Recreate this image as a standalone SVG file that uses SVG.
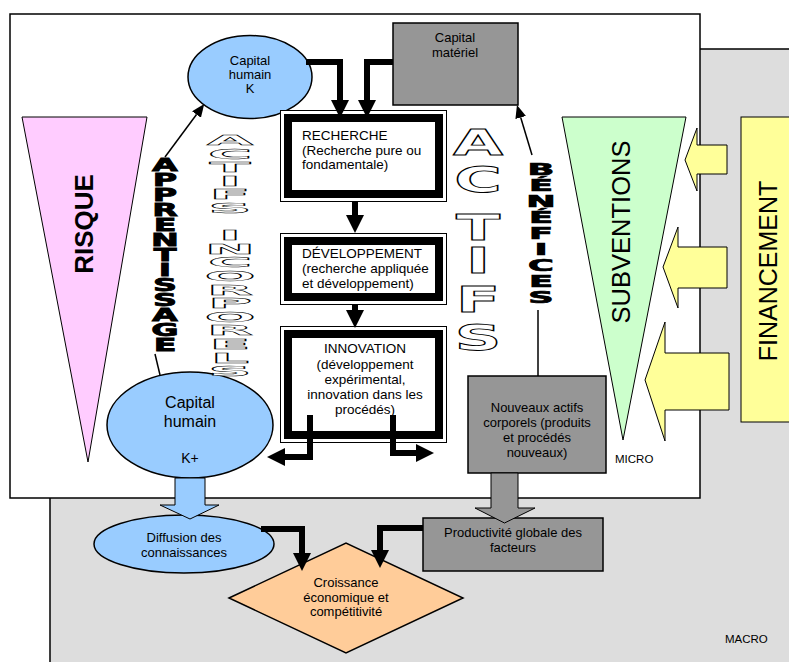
<svg xmlns="http://www.w3.org/2000/svg" width="789" height="662" viewBox="0 0 789 662">
<defs>
<style>
text{font-family:"Liberation Sans",Arial,sans-serif;fill:#000}
.t13{font-size:13px}
.t135{font-size:13.5px}
.mid{text-anchor:middle}
.thick{fill:none;stroke:#000;stroke-width:6;stroke-linejoin:miter}
.thin{fill:none;stroke:#000;stroke-width:1.5}
.outer{fill:#fff;stroke:#000;stroke-width:1}
.band{fill:none;stroke:#000;stroke-width:8}
.stk{font-family:"DejaVu Sans",sans-serif;font-weight:bold;text-anchor:middle;stroke:#000;stroke-width:1.2;vector-effect:non-scaling-stroke}
.out{font-family:"DejaVu Sans",sans-serif;font-weight:bold;text-anchor:middle;fill:#fff;stroke:#000;stroke-width:1.3;vector-effect:non-scaling-stroke}
</style>
<marker id="ah" markerUnits="userSpaceOnUse" markerWidth="18" markerHeight="18" viewBox="0 0 17 17" refX="0" refY="8.5" orient="auto">
<path d="M0,0 L17,8.5 L0,17 Z" fill="#000"/>
</marker>
<marker id="ahs" markerUnits="userSpaceOnUse" markerWidth="13" markerHeight="11" viewBox="0 0 13 11" refX="0" refY="5.5" orient="auto">
<path d="M0,0 L13,5.5 L0,11 Z" fill="#000"/>
</marker>
</defs>

<g id="macro-frame">
<rect x="50" y="49" width="750" height="625" fill="#dddddd" stroke="#000" stroke-width="1.5"/>
<text x="725" y="643" style="font-size:11.5px">MACRO</text>
</g>
<g id="micro-frame">
<rect x="10" y="14" width="690" height="484" fill="#fff" stroke="#000" stroke-width="1.5"/>
<text x="615" y="463" style="font-size:11.5px">MICRO</text>
</g>

<g id="risque">
<polygon points="22,117 147,117 88,462" fill="#ffccff" stroke="#000" stroke-width="1"/>
<text transform="translate(93,224) rotate(-90)" class="mid" style="font-size:26px;font-weight:bold">RISQUE</text>
</g>

<g id="subventions">
<polygon points="562,117 686,117 623,440" fill="#ccffcc" stroke="#000" stroke-width="1"/>
<text transform="translate(630,232) rotate(-90)" class="mid" style="font-size:25.5px">SUBVENTIONS</text>
</g>

<g id="financement">
<rect x="741" y="117" width="70" height="305" fill="#ffff99" stroke="#000" stroke-width="1"/>
<text transform="translate(777,271) rotate(-90)" class="mid" style="font-size:25px">FINANCEMENT</text>
</g>

<g id="financement-arrows" fill="#ffff99" stroke="#000" stroke-width="1">
<polygon points="727,145 697,145 697,128 685,160 697,191 697,174 727,174"/>
<polygon points="727,247 678,247 678,227 663,267 678,308 678,288 727,288"/>
<polygon points="729,353 665,353 665,322 645,380 665,441 665,410 729,410"/>
</g>

<g id="capital-humain-k">
<ellipse cx="250" cy="77" rx="62" ry="41.5" fill="#99ccff" stroke="#000" stroke-width="1.5"/>
<text x="250" y="65" class="t13 mid">Capital</text>
<text x="250" y="79" class="t13 mid">humain</text>
<text x="250" y="93" class="t13 mid">K</text>
</g>

<g id="capital-materiel">
<rect x="393" y="23" width="125" height="82" fill="#969696" stroke="#000" stroke-width="1.5"/>
<text x="455" y="42" class="t13 mid">Capital</text>
<text x="455" y="57" class="t13 mid">matériel</text>
</g>

<g id="recherche">
<rect x="280.5" y="110.5" width="166" height="91" class="outer"/>
<rect x="288" y="118" width="151" height="76" class="band"/>
<text x="302" y="140" class="t135">RECHERCHE</text>
<text x="302" y="155" class="t135">(Recherche pure ou</text>
<text x="302" y="169" class="t135">fondamentale)</text>
</g>

<g id="developpement">
<rect x="280.5" y="233.5" width="166" height="71" class="outer"/>
<rect x="288" y="241" width="151" height="56" class="band"/>
<text x="302" y="258" class="t135">DÉVELOPPEMENT</text>
<text x="302" y="273" class="t135">(recherche appliquée</text>
<text x="302" y="288" class="t135">et développement)</text>
</g>

<g id="innovation">
<rect x="280.5" y="326.5" width="166" height="116" class="outer"/>
<rect x="288" y="334" width="151" height="101" class="band"/>
<text x="365" y="353" class="t135 mid">INNOVATION</text>
<text x="365" y="369" class="t135 mid">(développement</text>
<text x="365" y="384" class="t135 mid">expérimental,</text>
<text x="365" y="399" class="t135 mid">innovation dans les</text>
<text x="365" y="414" class="t135 mid">procédés)</text>
</g>

<g id="capital-humain-kplus">
<ellipse cx="190" cy="425" rx="83" ry="53" fill="#99ccff" stroke="#000" stroke-width="1.5"/>
<text x="190" y="408" class="mid" style="font-size:16px">Capital</text>
<text x="190" y="427" class="mid" style="font-size:16px">humain</text>
<text x="190" y="463" class="mid" style="font-size:14px">K+</text>
</g>

<g id="nouveaux-actifs">
<rect x="468" y="376" width="138" height="97" fill="#969696" stroke="#000" stroke-width="1.5"/>
<text x="537" y="412" class="t13 mid">Nouveaux actifs</text>
<text x="537" y="427" class="t13 mid">corporels (produits</text>
<text x="537" y="442" class="t13 mid">et procédés</text>
<text x="537" y="457" class="t13 mid">nouveaux)</text>
</g>

<g id="diffusion">
<ellipse cx="184" cy="544" rx="90" ry="29" fill="#99ccff" stroke="#000" stroke-width="1.5"/>
<text x="184" y="542" class="t13 mid">Diffusion des</text>
<text x="184" y="557" class="t13 mid">connaissances</text>
</g>

<g id="productivite">
<rect x="423" y="518" width="180" height="53" fill="#969696" stroke="#000" stroke-width="1.5"/>
<text x="513" y="537" class="t13 mid">Productivité globale des</text>
<text x="513" y="552" class="t13 mid">facteurs</text>
</g>

<g id="croissance">
<polygon points="229,598 346,543 463,598 346,653" fill="#ffcc99" stroke="#000" stroke-width="1.5"/>
<text x="346" y="587" class="t13 mid">Croissance</text>
<text x="346" y="602" class="t13 mid">économique et</text>
<text x="346" y="616" class="t13 mid">compétitivité</text>
</g>

<g id="apprentissage">
<text transform="translate(165,0) scale(1.8,1)" class="stk" style="font-size:18.5px" x="0 0 0 0 0 0 0 0 0 0 0 0 0" y="171 186 201 216 231 246 261 276 291 306 321 336 351">APPRENTISSAGE</text>
</g>

<g id="actifs-incorporels">
<text transform="translate(230,0) scale(4.3,1)" class="out" style="font-size:14px" x="0 0 0 0 0 0 0 0 0 0 0 0 0 0 0 0 0 0" y="145 158.6 172.2 185.8 199.4 213 226.6 240.2 253.8 267.4 281 294.6 308.2 321.8 335.4 349 362.6 376.2">ACTIFS INCORPORELS</text>
</g>

<g id="actifs">
<text transform="translate(478,0) scale(1.85,1)" class="out" style="font-size:35px" x="0 0 0 0 0 0" y="155 192 240 273 312 350">ACTIFS</text>
</g>

<g id="benefices">
<text transform="translate(541,0) scale(2.2,1)" class="stk" style="font-size:16px" x="0 0 0 0 0 0 0 0 0" y="175 191 207 223 239 255 271 287 303">BÉNÉFICES</text>
</g>

<g id="connectors">
<path d="M306,62 H340 V100" class="thick" marker-end="url(#ah)"/>
<path d="M393,62 H367 V100" class="thick" marker-end="url(#ah)"/>
<path d="M355,202 V215" class="thick" marker-end="url(#ah)"/>
<path d="M355,305 V310" class="thick" marker-end="url(#ah)"/>
<path d="M310,415 V457 H285" class="thick" marker-end="url(#ah)"/>
<path d="M393,415 V453 H416" class="thick" marker-end="url(#ah)"/>
<path d="M261,529 H302 V553" class="thick" marker-end="url(#ah)"/>
<path d="M423,528 H380 V550" class="thick" marker-end="url(#ah)"/>
<path d="M165,157 L196.5,114.5" class="thin" marker-end="url(#ahs)"/>
<path d="M160,375 L155,354" class="thin"/>
<path d="M532,155 L520.7,117.5" class="thin" marker-end="url(#ahs)"/>
<path d="M538,310 V376" class="thin"/>
<polygon points="175,478 205,478 205,505 219,505 190,519 160,505 175,505" fill="#99ccff" stroke="#000" stroke-width="1"/>
<polygon points="491,473 518,473 518,508 535,508 504.5,523 475,508 491,508" fill="#969696" stroke="#000" stroke-width="1"/>
</g>
</svg>
